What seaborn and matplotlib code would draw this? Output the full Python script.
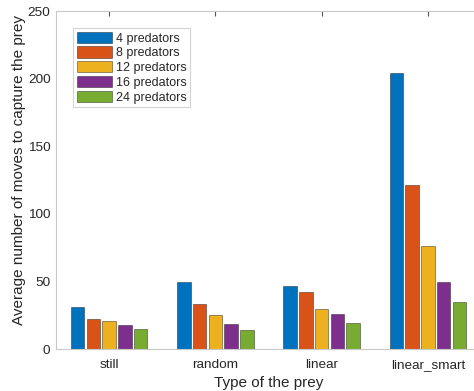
import numpy as np
import pandas as pd
import matplotlib
matplotlib.use("Agg")
import matplotlib.pyplot as plt
import seaborn as sns

prey_types = ["still", "random", "linear", "linear_smart"]
predators = ["4 predators", "8 predators", "12 predators", "16 predators", "24 predators"]
moves_4 = [30.7, 49.5, 46.8, 204.0]
moves_8 = [22.1, 33.5, 41.9, 121.6]
moves_12 = [20.6, 24.8, 29.8, 76.4]
moves_16 = [17.4, 18.7, 25.6, 49.8]
moves_24 = [15.0, 14.2, 19.4, 35.0]
colors = ["#0072BD", "#D95319", "#EDB120", "#7E2F8E", "#77AC30"]

rows = []
for name, vals in zip(predators, [moves_4, moves_8, moves_12, moves_16, moves_24]):
    for prey, v in zip(prey_types, vals):
        rows.append({"prey": prey, "predators": name, "moves": v})
df = pd.DataFrame(rows)

sns.set_style("white")
plt.rcParams["font.family"] = ["Liberation Sans", "DejaVu Sans"]

fig = plt.figure(figsize=(4.74, 3.91), dpi=100)
ax = fig.add_axes([56 / 474, 1 - 349 / 391, 425 / 474, 338 / 391])

sns.barplot(data=df, x="prey", y="moves", hue="predators", order=prey_types,
            hue_order=predators, palette=colors, saturation=1, width=0.74,
            gap=0.15, ax=ax, linewidth=0.6, edgecolor=(0, 0, 0, 0.45))

ax.set_xlim(-0.5, 3.5)
ax.set_ylim(0, 250)
ax.set_yticks([0, 50, 100, 150, 200, 250])

grey = "#c8c8c8"
for s in ax.spines.values():
    s.set_color(grey)
    s.set_linewidth(0.8)
ax.tick_params(direction="in", top=True, right=True, length=3.5,
               color="#555555", labelsize=9.7, labelcolor="#262626")
ax.tick_params(axis="x", pad=7)
ax.tick_params(axis="y", pad=4)

ax.set_xlabel("Type of the prey", fontsize=11, color="#262626", labelpad=4)
ax.set_ylabel("Average number of moves to capture the prey", fontsize=11,
              color="#262626")
ax.yaxis.set_label_coords(-0.07, 0.53)

leg = ax.legend(loc="upper left", bbox_to_anchor=(0.04, 0.95), fontsize=9,
                frameon=True, fancybox=False, borderpad=0.3, labelspacing=0.15,
                handlelength=2.8, handleheight=1.0, handletextpad=0.3,
                borderaxespad=0)
leg.get_frame().set_edgecolor(grey)
leg.get_frame().set_linewidth(0.8)

fig.savefig("out.png", dpi=100)
